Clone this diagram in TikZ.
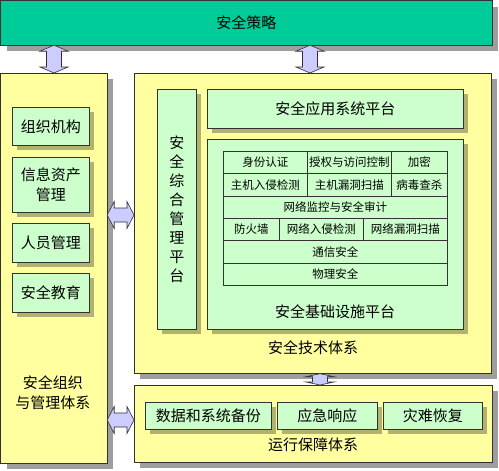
\documentclass[tikz,border=0pt]{standalone}
\usepackage{fontspec}
\setmainfont{Noto Sans CJK SC}
\usetikzlibrary{calc,shadows}
\definecolor{topteal}{RGB}{0,204,153}
\definecolor{lyellow}{RGB}{255,255,160}
\definecolor{lgreen}{RGB}{204,255,204}
\definecolor{lav}{RGB}{204,204,255}
\definecolor{edge}{RGB}{50,50,50}
\newcommand\myvarrow[4]{%
 \draw[blockarr] let \p1=(#1.south), \p2=(#2.north) in
 (#3pt,\y1) -- ++(14pt,-#4pt) -- ++(-6.5pt,0pt) -- (#3pt+7.5pt,\y2+#4pt) -- ++(6.5pt,0pt) -- (#3pt,\y2)
 -- ++(-14pt,#4pt) -- ++(6.5pt,0pt) -- (#3pt-7.5pt,\y1-#4pt) -- ++(-6.5pt,0pt) -- cycle;}
\newcommand\myharrow[4]{%
 \draw[blockarr] let \p1=(#1.east), \p2=(#2.west) in
 (\x1,-#3pt) -- ++(#4pt,13.5pt) -- ++(0pt,-6.5pt) -- (\x2-#4pt,-#3pt+7pt) -- ++(0pt,6.5pt) -- (\x2,-#3pt)
 -- ++(-#4pt,-13.5pt) -- ++(0pt,6.5pt) -- (\x1+#4pt,-#3pt-7pt) -- ++(0pt,-6.5pt) -- cycle;}
\begin{document}
\begin{tikzpicture}[x=1pt,y=-1pt,
  font=\fontsize{15}{20}\selectfont,
  base/.style={draw=edge, line width=0.7pt, anchor=north west, inner sep=0pt, align=center},
  outer/.style={base, drop shadow={shadow xshift=6pt, shadow yshift=-6pt, opacity=0.38, fill=black}},
  inner/.style={base, drop shadow={shadow xshift=5pt, shadow yshift=-5pt, opacity=0.3, fill=black}},
  ybox/.style={outer, fill=lyellow},
  gbox/.style={inner, fill=lgreen},
  cell/.style={draw=edge, line width=0.6pt, anchor=north west, inner sep=0pt, minimum height=22.33pt, font=\fontsize{11.5}{12}\selectfont},
  lbl/.style={inner sep=0pt, align=center},
  blockarr/.style={draw=edge, line width=0.6pt, fill=lav}]
\useasboundingbox (0,0) rectangle (499,471);
% outer boxes
\node[outer, fill=topteal, minimum width=491pt, minimum height=44pt] (top) at (0.5,0.5) {安全策略};
\node[ybox, minimum width=106pt, minimum height=390pt] (left) at (0.5,73) {};
\node[ybox, minimum width=357pt, minimum height=300pt] (tech) at (134,73) {};
\node[ybox, minimum width=358pt, minimum height=77pt] (ops) at (134,385) {};
% left column
\node[gbox, minimum width=77pt, minimum height=38pt] (org) at (12,107) {组织机构};
\node[gbox, minimum width=77pt, minimum height=55pt] (asset) at (12,157) {信息资产\\管理};
\node[gbox, minimum width=77pt, minimum height=39pt] (staff) at (12,223) {人员管理};
\node[gbox, minimum width=77pt, minimum height=39pt] (edu) at (12,273) {安全教育};
\node[lbl] (leftlbl) at (53,393) {安全组织\\与管理体系};
% tech system
\node[gbox, minimum width=39pt, minimum height=240pt, font=\fontsize{15}{19}\selectfont] (mgmt) at (157,89) {安\\全\\综\\合\\管\\理\\平\\台};
\node[gbox, minimum width=256pt, minimum height=39pt] (app) at (207,89) {安全应用系统平台};
\node[gbox, minimum width=256pt, minimum height=190pt] (infra) at (207,139) {};
\node[lbl] (infralbl) at (335,312) {安全基础设施平台};
\node[lbl] (techlbl) at (313,348) {安全技术体系};
% table
\node[cell, minimum width=84pt] (c11) at (223,151) {身份认证};
\node[cell, minimum width=84pt] (c12) at (307,151) {授权与访问控制};
\node[cell, minimum width=56pt] (c13) at (391,151) {加密};
\node[cell, minimum width=84pt] (c21) at (223,173.33) {主机入侵检测};
\node[cell, minimum width=84pt] (c22) at (307,173.33) {主机漏洞扫描};
\node[cell, minimum width=56pt] (c23) at (391,173.33) {病毒查杀};
\node[cell, minimum width=224pt] (c3) at (223,195.67) {网络监控与安全审计};
\node[cell, minimum width=56pt] (c41) at (223,218) {防火墙};
\node[cell, minimum width=84pt] (c42) at (279,218) {网络入侵检测};
\node[cell, minimum width=84pt] (c43) at (363,218) {网络漏洞扫描};
\node[cell, minimum width=224pt] (c5) at (223,240.33) {通信安全};
\node[cell, minimum width=224pt] (c6) at (223,262.67) {物理安全};
% ops
\node[gbox, minimum width=126pt, minimum height=27pt] (backup) at (145,402) {数据和系统备份};
\node[gbox, minimum width=100pt, minimum height=27pt] (emerg) at (277,402) {应急响应};
\node[gbox, minimum width=99pt, minimum height=27pt] (recov) at (383,402) {灾难恢复};
\node[lbl] (opslbl) at (313,445) {运行保障体系};
% connectors
\myvarrow{top}{left}{54}{6}
\myvarrow{top}{tech}{310}{6}
\myvarrow{tech}{ops}{320}{3}
\myharrow{left}{tech}{215}{7}
\myharrow{left}{ops}{420}{7}
\end{tikzpicture}
\end{document}
